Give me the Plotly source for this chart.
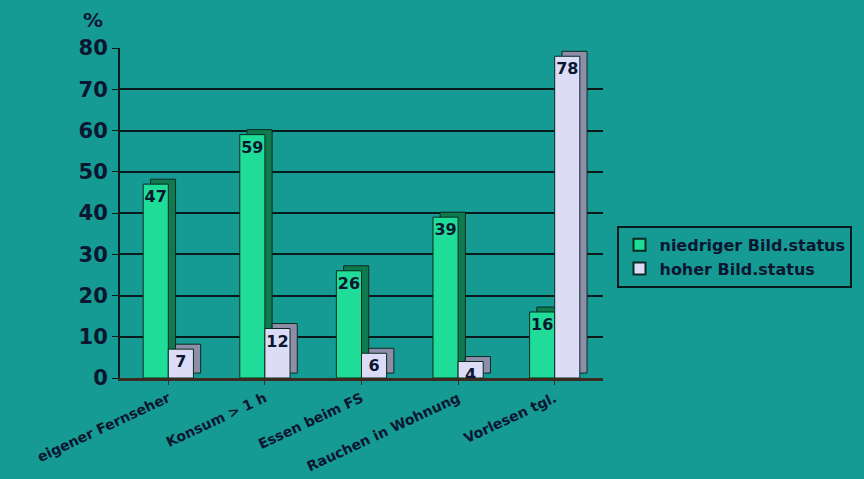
import plotly.graph_objects as go

categories = ["eigener Fernseher", "Konsum > 1 h", "Essen beim FS", "Rauchen in Wohnung", "Vorlesen tgl."]
niedrig = [47, 59, 26, 39, 16]
hoch = [7, 12, 6, 4, 78]
series_names = ["niedriger Bild.status", "hoher Bild.status"]

BG = "#169a94"
GREEN = "#1fdc98"
GREEN_SIDE = "#0f7a4e"
LAV = "#dcdcf6"
LAV_SIDE = "#8e8ea8"
INK = "#0b1630"
FONT = "DejaVu Sans"

W = 0.26
D = 0.075
fig = go.Figure()

# side/depth faces (3D look)
for vals, off, col in [(niedrig, -W, GREEN_SIDE), (hoch, 0.0, LAV_SIDE)]:
    fig.add_trace(go.Bar(x=categories, y=vals, base=1.2, offset=off + D, width=W,
                         marker=dict(color=col, line=dict(color="#0a2a20", width=1)),
                         showlegend=False, hoverinfo="skip"))

for vals, name, off, col in [(niedrig, series_names[0], -W, GREEN), (hoch, series_names[1], 0.0, LAV)]:
    fig.add_trace(go.Bar(x=categories, y=vals, name=name, offset=off, width=W,
                         marker=dict(color=col, line=dict(color="#0a2a20", width=1)),
                         text=[str(v) for v in vals], textposition="inside", insidetextanchor="end",
                         constraintext="none", textangle=0,
                         textfont=dict(family=FONT, size=16, color=INK, weight="bold")))

fig.update_layout(
    width=864, height=479,
    paper_bgcolor=BG, plot_bgcolor=BG,
    barmode="overlay",
    margin=dict(l=120, r=261, t=48, b=101, autoexpand=False),
    font=dict(family=FONT, color=INK),
    showlegend=True,
    legend=dict(x=1.03, y=0.367, xanchor="left", yanchor="middle",
                bgcolor=BG, bordercolor="#0a1a1a", borderwidth=2,
                font=dict(family=FONT, size=16, color=INK, weight="bold"),
                itemsizing="constant", tracegroupgap=0, itemwidth=30),
    xaxis=dict(tickangle=-25, tickfont=dict(family=FONT, size=14, color=INK, weight="bold"),
               showline=True, linecolor="#3a2a20", linewidth=3, ticks="outside",
               tickcolor="#3a2a20", ticklen=4, showgrid=False, range=[-0.5, 4.5],
               automargin=False),
    yaxis=dict(range=[0, 80], dtick=10, tickfont=dict(family=FONT, size=21, color=INK, weight="bold"),
               showline=True, linecolor="#0a1a1a", linewidth=2, ticks="outside", ticklen=6,
               tickcolor="#0a1a1a", gridcolor="#0a1a1a", gridwidth=2, zeroline=False,
               mirror=False, automargin=False),
    annotations=[dict(text="<b>%</b>", x=0, xref="paper", xanchor="right", xshift=-15,
                      y=1, yref="paper", yanchor="bottom", yshift=14, showarrow=False,
                      font=dict(family=FONT, size=20, color=INK))],
)

fig.write_html("out.html")
